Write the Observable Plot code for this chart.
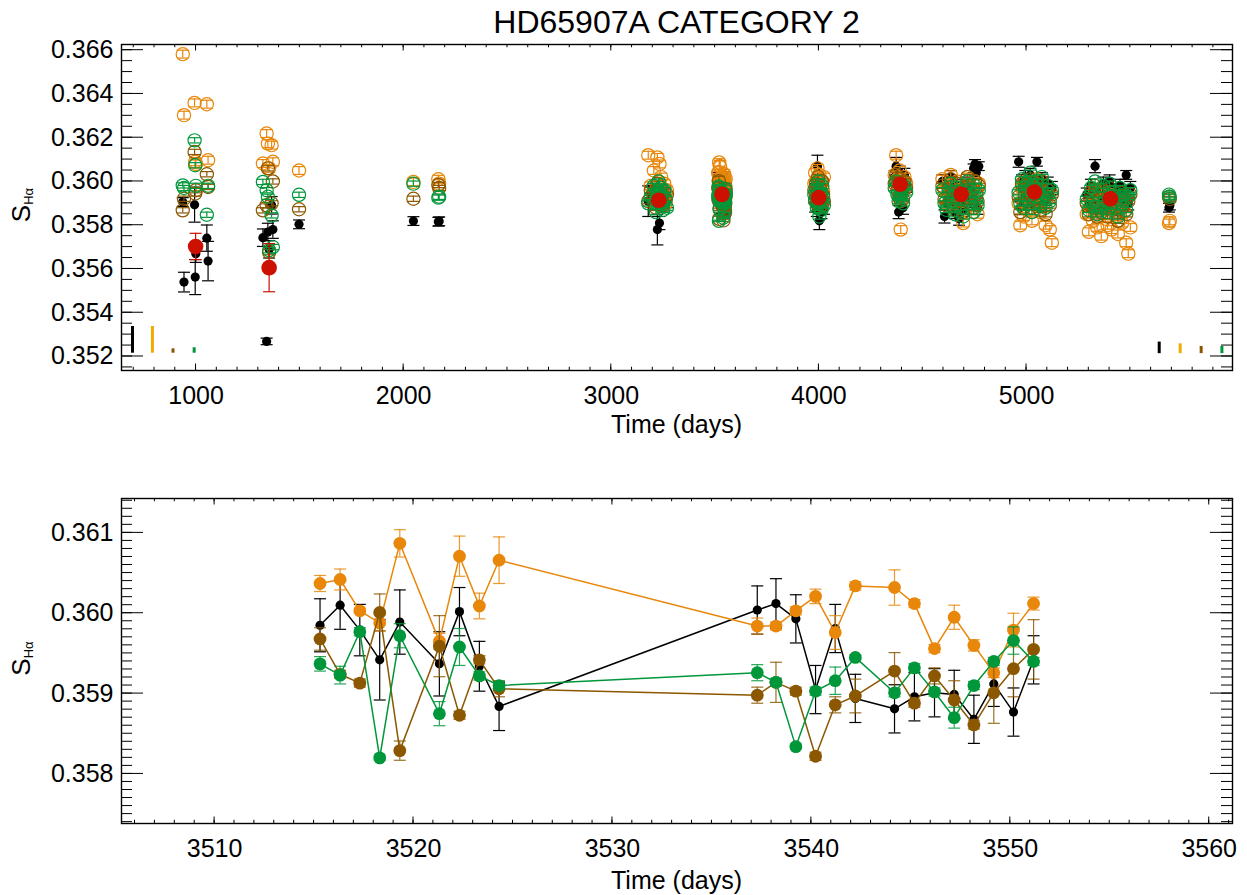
<!DOCTYPE html>
<html><head><meta charset="utf-8">
<script src="https://cdn.jsdelivr.net/npm/d3@7"></script>
<script src="https://cdn.jsdelivr.net/npm/@observablehq/plot@0.6"></script>
<style>
html,body{margin:0;padding:0;background:#fff;}
#chart{width:1247px;height:895px;overflow:hidden;background:#fff;}
#chart svg{display:block;}
</style></head><body><div id="chart"></div>
<script>
// ================= DATA =================
const title = "HD65907A CATEGORY 2";
const xTitle = "Time (days)";

// ---- Top panel tick labels ----
const topXTicks = [1000, 2000, 3000, 4000, 5000];
const topYTicks = [0.352, 0.354, 0.356, 0.358, 0.360, 0.362, 0.364, 0.366];
// ---- Bottom panel tick labels ----
const botXTicks = [3510, 3520, 3530, 3540, 3550, 3560];
const botYTicks = [0.358, 0.359, 0.360, 0.361];

// ---- Top panel: individual observations (all seasons except the zoomed one) ----
const topTime = [
  936, 942, 993, 996, 999, 1052, 1058,
  1322, 1340, 1346, 1352, 1364, 1370,
  1496, 2047, 2167, 2171,
  3178, 3190, 3205, 3215, 3222, 3228, 3232, 3236, 3240, 3245, 3250, 3255, 3262, 3268,
  3978, 3982, 3986, 3990, 3993, 3996, 3999, 4002, 4005, 4008, 4012, 4016, 4020, 4024,
  4365, 4372, 4378, 4384, 4389, 4394, 4399, 4405, 4412, 4420,
  4595, 4605, 4615, 4625, 4635, 4645, 4655, 4665, 4675, 4685, 4695, 4705, 4715, 4725, 4735, 4745, 4752, 4758, 4764, 4770,
  4962, 4970, 4978, 4986, 4994, 5002, 5010, 5018, 5026, 5034, 5042, 5050, 5058, 5066, 5074, 5082, 5092, 5102, 5112, 5122,
  5290, 5300, 5310, 5320, 5330, 5340, 5350, 5360, 5370, 5380, 5390, 5400, 5410, 5420, 5430, 5440, 5450, 5460, 5470, 5480, 5490, 5500,
  5686, 5690
];
const topBlack = [
  0.35906, 0.35540, 0.35894, 0.35563, 0.3567, 0.35741, 0.35636,
  0.35743, 0.35269, 0.35769, 0.3569, 0.35891, 0.3578,
  0.35804, 0.35819, 0.35816, 0.35818,
  0.3591, 0.3595, 0.3593, 0.3590, 0.3578, 0.3594, 0.3581, 0.3592, 0.3596, 0.3590, 0.3593, 0.3589, 0.3594, 0.3591,
  0.3593, 0.3589, 0.3596, 0.3587, 0.3607, 0.3598, 0.3591, 0.3582, 0.3594, 0.3590, 0.3586, 0.3597, 0.3592, 0.3588,
  0.3602, 0.3607, 0.3599, 0.3586, 0.3604, 0.3595, 0.3600, 0.3588, 0.3603, 0.3598,
  0.3600, 0.3584, 0.3590, 0.3595, 0.3602, 0.3592, 0.3586, 0.3598, 0.3583, 0.3589, 0.3587, 0.3596, 0.3599, 0.3591, 0.3595, 0.3606, 0.3608, 0.3604, 0.3588, 0.3607,
  0.3609, 0.3588, 0.3600, 0.3592, 0.3602, 0.3597, 0.3591, 0.3603, 0.3590, 0.3599, 0.3594, 0.3609, 0.3596, 0.3590, 0.3601, 0.3596, 0.3592, 0.3599, 0.3593, 0.3597,
  0.3594, 0.3589, 0.3598, 0.3592, 0.3607, 0.3587, 0.3595, 0.3590, 0.3599, 0.3593, 0.3588, 0.3600, 0.3591, 0.3596, 0.3594, 0.3586, 0.3598, 0.3592, 0.3595, 0.3603, 0.3590, 0.3597,
  0.3588, 0.3589
];
const topBlackErr = [
  0.0002, 0.00045, 0.0008, 0.0008, 0.0004, 0.0006, 0.0009,
  0.0004, 0.00015, 0.0004, 0.0004, 0.0004, 0.0004,
  0.0002, 0.0002, 0.0002, 0.0002,
  0.0007, 0.0003, 0.0003, 0.0003, 0.0007, 0.0003, 0.0003, 0.0003, 0.0003, 0.0003, 0.0003, 0.0003, 0.0003, 0.0003,
  0.0003, 0.0003, 0.0003, 0.0003, 0.0005, 0.0003, 0.0003, 0.0004, 0.0003, 0.0003, 0.0003, 0.0003, 0.0003, 0.0003,
  0.0003, 0.0004, 0.0003, 0.0003, 0.0003, 0.0003, 0.0003, 0.0003, 0.0003, 0.0003,
  0.0003, 0.0003, 0.0003, 0.0003, 0.0003, 0.0003, 0.0003, 0.0003, 0.0003, 0.0003, 0.0003, 0.0003, 0.0003, 0.0003, 0.0003, 0.0002, 0.0002, 0.0003, 0.0003, 0.0002,
  0.00025, 0.0003, 0.0003, 0.0003, 0.0003, 0.0003, 0.0003, 0.0003, 0.0003, 0.0003, 0.0003, 0.0002, 0.0003, 0.0003, 0.0003, 0.0003, 0.0003, 0.0003, 0.0003, 0.0003,
  0.0003, 0.0003, 0.0003, 0.0003, 0.0003, 0.0003, 0.0003, 0.0003, 0.0003, 0.0003, 0.0003, 0.0003, 0.0003, 0.0003, 0.0003, 0.0003, 0.0003, 0.0003, 0.0003, 0.0002, 0.0003, 0.0003,
  0.0002, 0.0002
];
const topOrange = [
  0.36582, 0.36303, 0.36359, 0.3609, 0.3608, 0.36353, 0.36097,
  0.36082, 0.36219, 0.36173, 0.3606, 0.36166, 0.3609,
  0.3605, 0.35998, 0.3601, 0.3599,
  0.3612, 0.3598, 0.3605, 0.3592, 0.3611, 0.3600, 0.3608, 0.3595, 0.3602, 0.3597, 0.3593, 0.3599, 0.3590, 0.3596,
  0.3599, 0.3604, 0.3594, 0.3601, 0.3606, 0.3597, 0.3592, 0.3603, 0.3598, 0.3595, 0.3600, 0.3591, 0.3596, 0.3602,
  0.3603, 0.3612, 0.3601, 0.3598, 0.3605, 0.3578, 0.3600, 0.3596, 0.3602, 0.3599,
  0.3601, 0.3596, 0.3592, 0.3598, 0.3603, 0.3594, 0.3589, 0.3600, 0.3596, 0.3591, 0.3581, 0.3598, 0.3602, 0.3593, 0.3597, 0.3589, 0.3600, 0.3595, 0.3585, 0.3599,
  0.3590, 0.3580, 0.3597, 0.3584, 0.3600, 0.3593, 0.3587, 0.3598, 0.3582, 0.3595, 0.3589, 0.3601, 0.3592, 0.3586, 0.3596, 0.3590, 0.3580, 0.3594, 0.3578, 0.3572,
  0.3585, 0.3577, 0.3590, 0.3582, 0.3596, 0.3579, 0.3587, 0.3575, 0.3592, 0.3583, 0.3580, 0.3594, 0.3578, 0.3588, 0.3584, 0.3576, 0.3591, 0.3581, 0.3586, 0.3572, 0.3567, 0.3579,
  0.3581, 0.3582
];
const topBrown = [
  0.35868, 0.35921, 0.36135, 0.35945, 0.3596, 0.36033, 0.35975,
  0.35868, 0.35891, 0.3606, 0.35677, 0.3590, 0.3600,
  0.35873, 0.35921, 0.35984, 0.3597,
  0.3591, 0.3596, 0.3593, 0.3588, 0.3599, 0.3594, 0.3591, 0.3597, 0.3590, 0.3593, 0.3589, 0.3595, 0.3592, 0.3594,
  0.3596, 0.3592, 0.3599, 0.3590, 0.3595, 0.3602, 0.3593, 0.3588, 0.3597, 0.3594, 0.3589, 0.3600, 0.3594, 0.3591,
  0.3599, 0.3603, 0.3596, 0.3593, 0.3601, 0.3591, 0.3598, 0.3592, 0.3600, 0.3597,
  0.3598, 0.3592, 0.3589, 0.3596, 0.3601, 0.3593, 0.3587, 0.3599, 0.3595, 0.3590, 0.3586, 0.3597, 0.3602, 0.3592, 0.3596, 0.3588, 0.3600, 0.3594, 0.3591, 0.3598,
  0.3593, 0.3586, 0.3599, 0.3590, 0.3598, 0.3596, 0.3590, 0.3601, 0.3588, 0.3597, 0.3591, 0.3599, 0.3593, 0.3587, 0.3600, 0.3592, 0.3585, 0.3596, 0.3589, 0.3594,
  0.3590, 0.3585, 0.3595, 0.3588, 0.3598, 0.3584, 0.3592, 0.3586, 0.3596, 0.3589, 0.3584, 0.3597, 0.3587, 0.3593, 0.3590, 0.3582, 0.3595, 0.3588, 0.3592, 0.3585, 0.3591, 0.3594,
  0.3593, 0.3592
];
const topGreen = [
  0.35982, 0.3597, 0.36188, 0.36074, 0.3598, 0.35848, 0.3598,
  0.35998, 0.3596, 0.3593, 0.35686, 0.35845, 0.35700,
  0.35939, 0.3599, 0.35926, 0.3593,
  0.3590, 0.3593, 0.3598, 0.3586, 0.3595, 0.3600, 0.3589, 0.3594, 0.3597, 0.3591, 0.3587, 0.3596, 0.3592, 0.3588,
  0.3594, 0.3591, 0.3597, 0.3588, 0.3593, 0.3600, 0.3590, 0.3584, 0.3595, 0.3592, 0.3587, 0.3598, 0.3593, 0.3589,
  0.3597, 0.3600, 0.3594, 0.3591, 0.3599, 0.3593, 0.3596, 0.3590, 0.3598, 0.3595,
  0.3596, 0.3590, 0.3587, 0.3594, 0.3599, 0.3591, 0.3585, 0.3597, 0.3593, 0.3588, 0.3584, 0.3595, 0.3600, 0.3590, 0.3594, 0.3586, 0.3598, 0.3592, 0.3589, 0.3596,
  0.3595, 0.3590, 0.3601, 0.3588, 0.3597, 0.3599, 0.3592, 0.3604, 0.3586, 0.3598, 0.3593, 0.3600, 0.3595, 0.3589, 0.3602, 0.3594, 0.3588, 0.3598, 0.3591, 0.3596,
  0.3592, 0.3587, 0.3597, 0.3590, 0.3600, 0.3585, 0.3594, 0.3588, 0.3598, 0.3591, 0.3586, 0.3599, 0.3589, 0.3595, 0.3592, 0.3584, 0.3597, 0.3590, 0.3594, 0.3587, 0.3593, 0.3596,
  0.3594, 0.3593
];
// typical error of the open-circle indices in the top panel
const topOrangeErr = 0.00018;
const topBrownErr = 0.00012;
const topGreenErr = 0.00012;

// ---- Seasonal means (red) ----
const meanTime = [998, 1352, 3229, 3533, 3999, 4391, 4685, 5038, 5404];
const meanValue = [0.35703, 0.35606, 0.35914, 0.35941, 0.35926, 0.35987, 0.35941, 0.35952, 0.35921];
const meanErr = [0.0006, 0.0011, 0.0001, 0.0001, 0.0001, 0.0001, 0.0001, 0.0001, 0.0001];

// ---- Typical error bars drawn at the bottom corners of the top panel ----
const errKeyTime = [694, 790, 889, 991, 5639, 5740, 5841, 5941];
const errKeyLow  = [0.35215, 0.35215, 0.35215, 0.35215, 0.35213, 0.35213, 0.35213, 0.35213];
const errKeyHigh = [0.35337, 0.35337, 0.35235, 0.35240, 0.35266, 0.35258, 0.35246, 0.35246];
const errKeySeries = ["black", "orange", "brown", "green", "black", "orange", "brown", "green"];

// ---- Bottom panel: zoom on one season ----
const botTime = [3515.30, 3516.31, 3517.30, 3518.30, 3519.31, 3521.30, 3522.31, 3523.31, 3524.30,
  3537.28, 3538.22, 3539.22, 3540.21, 3541.20, 3542.21, 3544.18, 3545.18, 3546.19, 3547.18, 3548.17, 3549.17, 3550.16, 3551.17];
const botOrange = [0.36037, 0.36042, 0.36003, 0.35988, 0.36087, 0.35965, 0.36071, 0.36009, 0.36066,
  0.35984, 0.35984, 0.36003, 0.36021, 0.35976, 0.36034, 0.36032, 0.36012, 0.35956, 0.35995, 0.35960, 0.35926, 0.35979, 0.36012];
const botOrangeErr = [0.0001, 0.00013, 0.00003, 0.0001, 0.00017, 0.0001, 0.00025, 0.00016, 0.00029,
  0.0001, 0.00005, 0.00005, 0.00009, 0.00021, 0.00005, 0.00022, 0.00005, 0.00005, 0.00015, 0.00007, 0.00006, 0.00021, 0.00008];
const botBlack = [0.35985, 0.36010, 0.35979, 0.35942, 0.35989, 0.35937, 0.36002, 0.35934, 0.35884,
  0.36004, 0.36012, 0.35993, 0.35905, 0.35981, 0.35894, 0.35881, 0.35896, 0.35901, 0.35899, 0.35868, 0.35912, 0.35877, 0.35942];
const botBlackErr = [0.00033, 0.0003, 0.00032, 0.0005, 0.0004, 0.0004, 0.0003, 0.00031, 0.0003,
  0.0003, 0.00031, 0.0003, 0.0003, 0.0003, 0.0003, 0.0003, 0.0003, 0.0003, 0.0003, 0.0003, 0.00028, 0.0003, 0.0003];
const botBrown = [0.35968, 0.35924, 0.35913, 0.36001, 0.35829, 0.35959, 0.35873, 0.35942, 0.35906,
  0.35898, 0.35914, 0.35903, 0.35822, 0.35886, 0.35897, 0.35928, 0.35888, 0.35922, 0.35892, 0.35861, 0.35901, 0.35931, 0.35955];
const botBrownErr = [0.00014, 0.00005, 0.00005, 0.00023, 0.00012, 0.00038, 0.00005, 0.00005, 0.0001,
  0.0001, 0.00025, 0.00005, 0.00005, 0.0001, 0.00021, 0.00023, 0.00005, 0.0001, 0.00024, 0.00005, 0.00038, 0.00035, 0.00037];
const botGreen = [0.35937, 0.35923, 0.35977, 0.35820, 0.35972, 0.35875, 0.35958, 0.35922, 0.35910,
  0.35926, 0.35914, 0.35834, 0.35903, 0.35916, 0.35945, 0.35901, 0.35932, 0.35902, 0.35870, 0.35910, 0.35940, 0.35966, 0.35940];
const botGreenErr = [0.00009, 0.00011, 0.00005, 0.00003, 0.00015, 0.00015, 0.00023, 0.00005, 0.00005,
  0.0001, 0.00005, 0.00003, 0.00005, 0.00017, 0.00003, 0.00005, 0.00005, 0.00005, 0.00013, 0.00005, 0.00005, 0.00017, 0.00005];

// ================= STYLE =================
const FONT = "'Liberation Sans', Arial, Helvetica, sans-serif";
const COLOR = {black: "#000000", orange: "#E8870A", brown: "#8B5700", green: "#00973A", red: "#CC1100"};
const KEYCOLOR = {black: "#000000", orange: "#F2AA00", brown: "#8B5700", green: "#00973A"};
const SERIES = ["black", "orange", "brown", "green"];
const capShape = {draw(ctx) { ctx.moveTo(-6, 0); ctx.lineTo(6, 0); }};

// ================= BUILD RECORDS =================
const topRecords = topTime.map((t, i) => ({
  t,
  black: topBlack[i], blackErr: topBlackErr[i],
  orange: topOrange[i], orangeErr: topOrangeErr,
  brown: topBrown[i], brownErr: topBrownErr,
  green: topGreen[i], greenErr: topGreenErr
}));
const botRecords = botTime.map((t, i) => ({
  t,
  black: botBlack[i], blackErr: botBlackErr[i],
  orange: botOrange[i], orangeErr: botOrangeErr[i],
  brown: botBrown[i], brownErr: botBrownErr[i],
  green: botGreen[i], greenErr: botGreenErr[i]
}));
const topAll = topRecords.concat(botRecords);
const means = meanTime.map((t, i) => ({t, v: meanValue[i], e: meanErr[i]}));
const errKeys = errKeyTime.map((t, i) => ({t, lo: errKeyLow[i], hi: errKeyHigh[i], s: errKeySeries[i]}));

// ================= HELPERS =================
function idlTicks({xMajor, xMinor, yMajor, yMinor, xLen, yLen}) {
  return (index, scales, values, dim) => {
    const {x, y} = scales;
    const L = dim.marginLeft, R = dim.width - dim.marginRight;
    const T = dim.marginTop, B = dim.height - dim.marginBottom;
    let d = "";
    const vx = (arr, len) => { for (const v of arr) { const p = x(v); if (p < L + 0.5 || p > R - 0.5) continue; d += `M${p},${B}v${-len}M${p},${T}v${len}`; } };
    const vy = (arr, len) => { for (const v of arr) { const p = y(v); if (p < T + 0.5 || p > B - 0.5) continue; d += `M${L},${p}h${len}M${R},${p}h${-len}`; } };
    vx(xMajor, xLen); vx(xMinor, xLen / 2); vy(yMajor, yLen); vy(yMinor, yLen / 2);
    const path = document.createElementNS("http://www.w3.org/2000/svg", "path");
    path.setAttribute("d", d);
    path.setAttribute("stroke", "#000");
    path.setAttribute("stroke-width", "1");
    path.setAttribute("fill", "none");
    return path;
  };
}

function errorMarks(data, key, color, opacity = 1) {
  const lo = d => d[key] - d[key + "Err"];
  const hi = d => d[key] + d[key + "Err"];
  return [
    Plot.ruleX(data, {x: "t", y1: lo, y2: hi, stroke: color, strokeWidth: 1.2, strokeOpacity: opacity}),
    Plot.dot(data, {x: "t", y: lo, symbol: capShape, stroke: color, fill: "none", strokeWidth: 1.2, strokeOpacity: opacity}),
    Plot.dot(data, {x: "t", y: hi, symbol: capShape, stroke: color, fill: "none", strokeWidth: 1.2, strokeOpacity: opacity})
  ];
}

function addLabels(svg, {frameTop, frameBottom, titleY, xTitleY}) {
  const s = d3.select(svg);
  const cx = (121 + 1232) / 2;
  if (titleY) {
    s.append("text").attr("x", cx).attr("y", titleY).attr("text-anchor", "middle")
      .attr("font-family", FONT).attr("font-size", 32).attr("fill", "#000").text(title);
  }
  s.append("text").attr("x", cx).attr("y", xTitleY).attr("text-anchor", "middle")
    .attr("font-family", FONT).attr("font-size", 25).attr("fill", "#000").text(xTitle);
  const cy = (frameTop + frameBottom) / 2 - 2;
  const t = s.append("text").attr("transform", `translate(30,${cy}) rotate(-90)`)
    .attr("text-anchor", "middle").attr("font-family", FONT).attr("fill", "#000");
  t.append("tspan").attr("font-size", 26).text("S");
  t.append("tspan").attr("font-size", 13).attr("dy", 3).text("H\u03B1");
}

// ================= TOP PANEL =================
const topMarks = [];
topMarks.push(Plot.ruleX(errKeys.filter(d => d.s === "black"), {x: "t", y1: "lo", y2: "hi", stroke: KEYCOLOR.black, strokeWidth: 3}));
topMarks.push(Plot.ruleX(errKeys.filter(d => d.s === "orange"), {x: "t", y1: "lo", y2: "hi", stroke: KEYCOLOR.orange, strokeWidth: 3}));
topMarks.push(Plot.ruleX(errKeys.filter(d => d.s === "brown"), {x: "t", y1: "lo", y2: "hi", stroke: KEYCOLOR.brown, strokeWidth: 3}));
topMarks.push(Plot.ruleX(errKeys.filter(d => d.s === "green"), {x: "t", y1: "lo", y2: "hi", stroke: KEYCOLOR.green, strokeWidth: 3}));
for (const key of SERIES) {
  topMarks.push(...errorMarks(topAll, key, COLOR[key]));
  if (key === "black") {
    topMarks.push(Plot.dot(topAll, {x: "t", y: key, r: 4.6, fill: COLOR.black, stroke: "none"}));
  } else {
    topMarks.push(Plot.dot(topAll, {x: "t", y: key, r: 6.6, fill: "none", stroke: COLOR[key], strokeWidth: 1.2}));
  }
}
topMarks.push(...errorMarks(means.map(d => ({t: d.t, red: d.v, redErr: d.e})), "red", COLOR.red));
topMarks.push(Plot.dot(means, {x: "t", y: "v", r: 7.8, fill: COLOR.red, stroke: "none"}));
topMarks.push(Plot.frame({stroke: "#000", strokeWidth: 1.4}));
topMarks.push(idlTicks({
  xMajor: topXTicks, xMinor: d3.range(700, 6000, 100),
  yMajor: topYTicks, yMinor: d3.range(0, 31).map(i => 0.3515 + i * 0.0005),
  xLen: 6.5, yLen: 22
}));
topMarks.push(Plot.axisX({ticks: topXTicks, tickSize: 0, tickPadding: 16, tickFormat: d => String(d), label: null}));
topMarks.push(Plot.axisY({ticks: topYTicks, tickSize: 0, tickPadding: 8, tickFormat: d3.format(".3f"), label: null}));

const topPlot = Plot.plot({
  width: 1247, height: 445,
  marginLeft: 121, marginRight: 15, marginTop: 44, marginBottom: 75,
  x: {domain: [641, 5992]},
  y: {domain: [0.35136, 0.36626]},
  style: {fontFamily: FONT, fontSize: "25px", color: "#000", background: "#fff", overflow: "visible"},
  marks: topMarks
});
addLabels(topPlot, {frameTop: 44, frameBottom: 370, titleY: 33, xTitleY: 433});

// ================= BOTTOM PANEL =================
const botMarks = [];
for (const key of SERIES) {
  botMarks.push(Plot.line(botRecords, {x: "t", y: key, stroke: COLOR[key], strokeWidth: 1.5}));
  botMarks.push(...errorMarks(botRecords, key, COLOR[key], key === "black" ? 1 : 0.85));
  botMarks.push(Plot.dot(botRecords, {x: "t", y: key, r: key === "black" ? 4.6 : 6.4, fill: COLOR[key], stroke: "none"}));
}
botMarks.push(Plot.frame({stroke: "#000", strokeWidth: 1.4}));
botMarks.push(idlTicks({
  xMajor: botXTicks, xMinor: d3.range(3506, 3562, 1),
  yMajor: botYTicks, yMinor: d3.range(0, 41).map(i => 0.3574 + i * 0.0001),
  xLen: 6.5, yLen: 22
}));
botMarks.push(Plot.axisX({ticks: botXTicks, tickSize: 0, tickPadding: 16, tickFormat: d => String(d), label: null}));
botMarks.push(Plot.axisY({ticks: botYTicks, tickSize: 0, tickPadding: 8, tickFormat: d3.format(".3f"), label: null}));

const botPlot = Plot.plot({
  width: 1247, height: 450,
  marginLeft: 121, marginRight: 15, marginTop: 53, marginBottom: 72,
  x: {domain: [3505.32, 3561.17]},
  y: {domain: [0.357383, 0.361428]},
  style: {fontFamily: FONT, fontSize: "25px", color: "#000", background: "#fff", overflow: "visible"},
  marks: botMarks
});
addLabels(botPlot, {frameTop: 53, frameBottom: 378, titleY: null, xTitleY: 444});

const chart = document.getElementById("chart");
chart.appendChild(topPlot);
chart.appendChild(botPlot);
</script></body></html>
